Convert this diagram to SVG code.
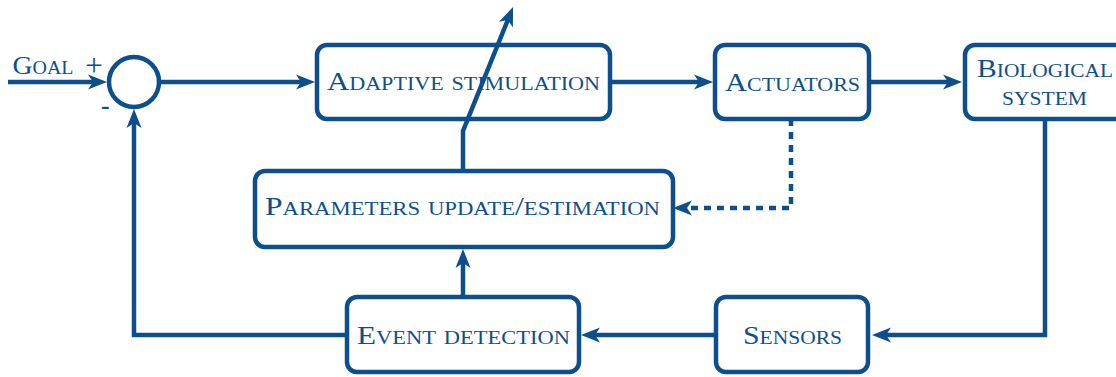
<svg xmlns="http://www.w3.org/2000/svg" width="1116" height="377" viewBox="0 0 1116 377">
  <style>
    .box { fill: #ffffff; stroke: #0d4f8c; stroke-width: 4.5; }
    .wire { fill: none; stroke: #0d4f8c; stroke-width: 4.5; }
    .dotted { stroke-dasharray: 7 6; }
    .lbl { font-family: "Liberation Serif", "DejaVu Serif", serif; font-size: 25px; font-variant: small-caps; fill: #0d4f8c; text-anchor: middle; }
    .sign { font-family: "Liberation Serif", "DejaVu Serif", serif; fill: #0d4f8c; }
  </style>
  <defs>
    <!-- stealth-style arrowhead; tip sits 10px beyond the path end -->
    <marker id="arr" markerUnits="userSpaceOnUse" viewBox="-10 -9 22 18" refX="0" refY="0" markerWidth="22" markerHeight="18" orient="auto">
      <path d="M10,0 L-9,-7.5 L-4,0 L-9,7.5 Z" fill="#0d4f8c"/>
    </marker>
  </defs>

  <rect width="1116" height="377" fill="#ffffff"/>

  <!-- connectors -->
  <g id="connectors">
    <path class="wire" d="M8,82 H97" marker-end="url(#arr)"/>
    <path class="wire" d="M159,82 H305" marker-end="url(#arr)"/>
    <path class="wire" d="M610,82 H703" marker-end="url(#arr)"/>
    <path class="wire" d="M869,82 H952" marker-end="url(#arr)"/>
    <path class="wire" d="M1045,119 V335 H882" marker-end="url(#arr)"/>
    <path class="wire" d="M716,335 H591" marker-end="url(#arr)"/>
    <path class="wire" d="M347,335 H134 V119" marker-end="url(#arr)"/>
    <path class="wire" d="M463,297 V259" marker-end="url(#arr)"/>
    <path class="wire dotted" d="M791,119 V208 H683" marker-end="url(#arr)"/>
  </g>

  <!-- summing junction -->
  <g id="sum">
    <circle cx="134" cy="82" r="25" fill="#ffffff" stroke="#0d4f8c" stroke-width="4.5"/>
    <text class="sign" x="94" y="76" font-size="31" text-anchor="middle">+</text>
    <text class="sign" x="101" y="114" font-size="26" font-weight="bold">-</text>
  </g>

  <g id="goal">
    <text class="lbl" x="43" y="74" textLength="61" lengthAdjust="spacingAndGlyphs">Goal</text>
  </g>

  <g id="adaptive">
    <rect class="box" x="317" y="45" width="293" height="74" rx="10"/>
    <text class="lbl" x="463.5" y="90" textLength="273" lengthAdjust="spacingAndGlyphs">Adaptive stimulation</text>
  </g>

  <g id="actuators">
    <rect class="box" x="715" y="45" width="154" height="74" rx="10"/>
    <text class="lbl" x="792.5" y="91" textLength="135" lengthAdjust="spacingAndGlyphs">Actuators</text>
  </g>

  <g id="biological">
    <rect class="box" x="965" y="45" width="160" height="74" rx="10"/>
    <text class="lbl" x="1045" y="77" textLength="136" lengthAdjust="spacingAndGlyphs">Biological</text>
    <text class="lbl" x="1044.5" y="105" textLength="85" lengthAdjust="spacingAndGlyphs">system</text>
  </g>

  <g id="parameters">
    <rect class="box" x="255" y="171" width="418" height="76" rx="10"/>
    <text class="lbl" x="462.5" y="215" textLength="395" lengthAdjust="spacingAndGlyphs">Parameters update/estimation</text>
  </g>

  <g id="event">
    <rect class="box" x="347" y="297" width="232" height="75" rx="10"/>
    <text class="lbl" x="463.5" y="344" textLength="213" lengthAdjust="spacingAndGlyphs">Event detection</text>
  </g>

  <g id="sensors">
    <rect class="box" x="716" y="297" width="152" height="75" rx="10"/>
    <text class="lbl" x="792.5" y="344" textLength="99" lengthAdjust="spacingAndGlyphs">Sensors</text>
  </g>

  <!-- adaptation arrow, drawn across the stimulation block -->
  <g id="adaptation">
    <path class="wire" d="M463,171 V131 L509.3,16.3" marker-end="url(#arr)"/>
  </g>
</svg>
